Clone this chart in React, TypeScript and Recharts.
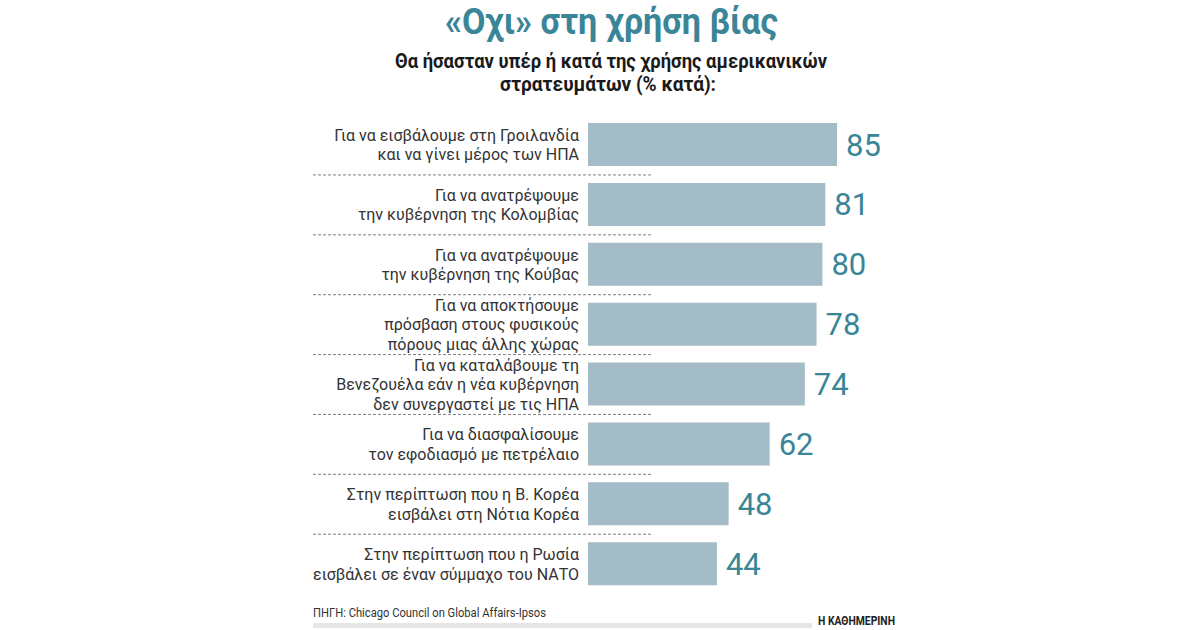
import React from "react";
import { BarChart, Bar, XAxis, YAxis, LabelList } from "recharts";

// κατηγορίες (κάθε γραμμή του label χωρίζεται με \n)
const categories = [
  "Για να εισβάλουμε στη Γροιλανδία\nκαι να γίνει μέρος των ΗΠΑ",
  "Για να ανατρέψουμε\nτην κυβέρνηση της Κολομβίας",
  "Για να ανατρέψουμε\nτην κυβέρνηση της Κούβας",
  "Για να αποκτήσουμε\nπρόσβαση στους φυσικούς\nπόρους μιας άλλης χώρας",
  "Για να καταλάβουμε τη\nΒενεζουέλα εάν η νέα κυβέρνηση\nδεν συνεργαστεί με τις ΗΠΑ",
  "Για να διασφαλίσουμε\nτον εφοδιασμό με πετρέλαιο",
  "Στην περίπτωση που η Β. Κορέα\nεισβάλει στη Νότια Κορέα",
  "Στην περίπτωση που η Ρωσία\nεισβάλει σε έναν σύμμαχο του ΝΑΤΟ",
];
const against = [85, 81, 80, 78, 74, 62, 48, 44];

const TITLE = "«Οχι» στη χρήση βίας";
const SUBTITLE = [
  "Θα ήσασταν υπέρ ή κατά της χρήσης αμερικανικών",
  "στρατευμάτων (% κατά):",
];
const SOURCE = "ΠΗΓΗ: Chicago Council on Global Affairs-Ipsos";
const BRAND = "Η ΚΑΘΗΜΕΡΙΝΗ";

const data = categories.map((name, i) => ({ name, value: against[i] }));

const TEAL = "#3a8597";
const BAR = "#a3bcc8";
const FONT = "Roboto, sans-serif";

const CategoryTick = (props: any) => {
  const { y, payload, index } = props;
  const lines: string[] = String(payload.value).split("\n");
  const lh = 19.5;
  const startY = y - ((lines.length - 1) * lh) / 2;
  return (
    <g>
      <text textAnchor="end" fontFamily={FONT} fontSize={16} fill="#333">
        {lines.map((l, i) => (
          <tspan key={i} x={579} y={startY + i * lh} dy="0.36em">
            {l}
          </tspan>
        ))}
      </text>
      {index < categories.length - 1 && (
        <line
          x1={313}
          x2={653}
          y1={y + 30}
          y2={y + 30}
          stroke="#808080"
          strokeWidth={1}
          strokeDasharray="3 2"
        />
      )}
    </g>
  );
};

export default function App() {
  return (
    <div
      style={{
        position: "absolute",
        top: 0,
        left: 0,
        width: 1200,
        height: 630,
        background: "#fff",
        overflow: "hidden",
      }}
    >
      <BarChart
        width={1200}
        height={630}
        data={data}
        layout="vertical"
        margin={{ top: 115, right: 319, bottom: 36, left: 0 }}
      >
        <XAxis type="number" domain={[0, 100]} hide />
        <YAxis
          type="category"
          dataKey="name"
          width={588}
          axisLine={false}
          tickLine={false}
          interval={0}
          tick={<CategoryTick />}
        />
        <Bar dataKey="value" fill={BAR} barSize={43} isAnimationActive={false}>
          <LabelList
            dataKey="value"
            position="right"
            offset={9}
            fill={TEAL}
            fontSize={31}
            fontFamily={FONT}
          />
        </Bar>
      </BarChart>

      {/* τίτλος, υπότιτλος και υποσέλιδο */}
      <svg
        width={1200}
        height={630}
        style={{ position: "absolute", top: 0, left: 0, pointerEvents: "none" }}
      >
        <text
          x={445}
          y={34}
          fontFamily={FONT}
          fontWeight={700}
          fontSize={37}
          fill={TEAL}
          textLength={333}
          lengthAdjust="spacingAndGlyphs"
        >
          {TITLE}
        </text>
        <text
          x={395}
          y={68}
          fontFamily={FONT}
          fontWeight={700}
          fontSize={20.5}
          fill="#1a1a1a"
          textLength={432}
          lengthAdjust="spacingAndGlyphs"
        >
          {SUBTITLE[0]}
        </text>
        <text
          x={500}
          y={91}
          fontFamily={FONT}
          fontWeight={700}
          fontSize={20.5}
          fill="#1a1a1a"
          textLength={216}
          lengthAdjust="spacingAndGlyphs"
        >
          {SUBTITLE[1]}
        </text>
        <text
          x={313}
          y={617}
          fontFamily={FONT}
          fontSize={12.5}
          fill="#333"
          textLength={233}
          lengthAdjust="spacingAndGlyphs"
        >
          {SOURCE}
        </text>
        <rect x={313} y={623} width={499} height={5} fill="#e6e6e6" />
        <text
          x={818}
          y={625}
          fontFamily={FONT}
          fontWeight={700}
          fontSize={13}
          fill="#222"
          textLength={77}
          lengthAdjust="spacingAndGlyphs"
        >
          {BRAND}
        </text>
      </svg>
    </div>
  );
}
